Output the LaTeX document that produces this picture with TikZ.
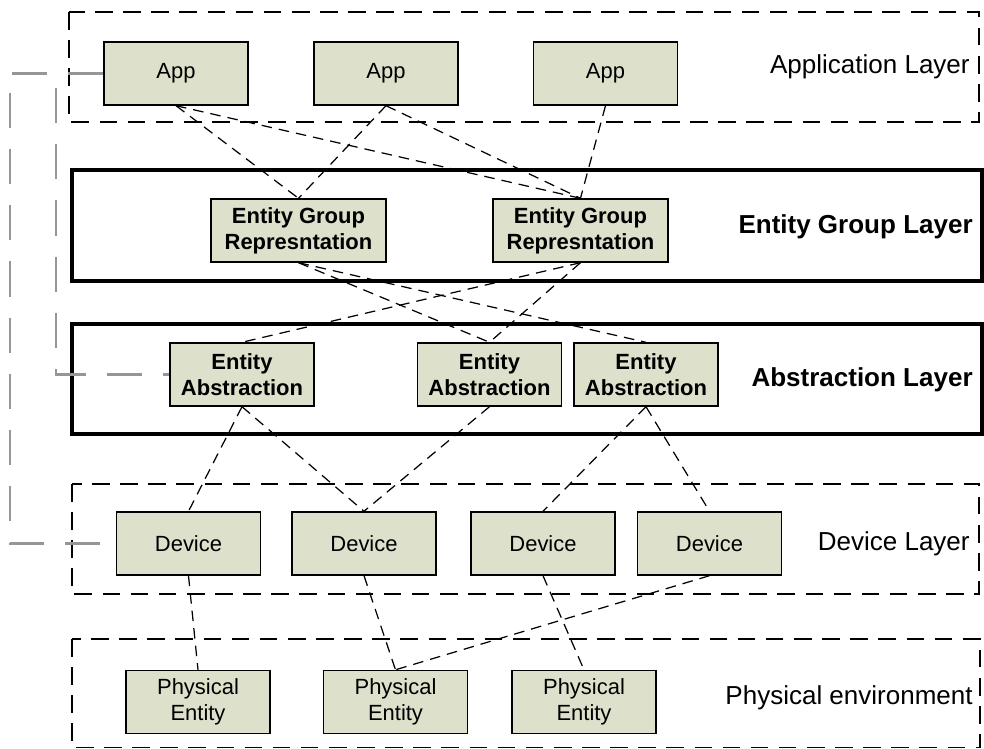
\documentclass[tikz,border=0pt]{standalone}
\usepackage{fontspec}
\setmainfont{Liberation Sans}
\definecolor{boxfill}{RGB}{221,224,203}
\definecolor{linkgray}{RGB}{150,150,150}
\begin{document}
\begin{tikzpicture}[scale=0.2]
\tikzstyle{every node}+=[inner sep=0pt]
\tikzstyle{layer}=[black, line width=0.8pt, dash pattern=on 10pt off 6pt]
\tikzstyle{boldlayer}=[black, line width=2.3pt]
\tikzstyle{box}=[draw=black, line width=0.8pt, fill=boxfill, minimum width=2.88cm, minimum height=1.26cm, align=center, font=\fontsize{12.5}{14.8}\selectfont]
\tikzstyle{boldbox}=[box, font=\fontsize{12.5}{14.8}\selectfont\bfseries]
\tikzstyle{widebox}=[boldbox, minimum width=3.5cm]
\tikzstyle{link}=[black, line width=0.7pt, dash pattern=on 6pt off 4pt]
\tikzstyle{backlink}=[linkgray, line width=1.4pt, dash pattern=on 20pt off 12pt]
\tikzstyle{layername}=[anchor=east, font=\fontsize{14.8}{17}\selectfont]
\useasboundingbox (0,0) rectangle (98.4,-74.9);
% layers
\draw [layer] (6.9,-1.2) rectangle (97.9,-12.2);
\draw [boldlayer] (7.2,-17.0) rectangle (98.2,-28.1);
\draw [boldlayer] (7.2,-32.4) rectangle (98.2,-43.4);
\draw [layer] (7.2,-48.4) rectangle (97.9,-59.4);
\draw [layer] (7.2,-63.9) rectangle (98.0,-74.75);
\node [layername] (applab) at (97.0,-6.7) {Application Layer};
\node [layername, font=\fontsize{14.8}{17}\selectfont\bfseries] (grouplab) at (97.3,-22.7) {Entity Group Layer};
\node [layername, font=\fontsize{14.8}{17}\selectfont\bfseries] (abslab) at (97.3,-38.0) {Abstraction Layer};
\node [layername] (devlab) at (97.0,-54.4) {Device Layer};
\node [layername] (physlab) at (97.3,-69.8) {Physical environment};
% boxes
\node [box] (app1) at (17.6,-7.35) {App};
\node [box] (app2) at (38.6,-7.35) {App};
\node [box] (app3) at (60.55,-7.35) {App};
\node [widebox] (grp1) at (29.85,-23.05) {Entity Group\\Represntation};
\node [widebox] (grp2) at (58.05,-23.05) {Entity Group\\Represntation};
\node [boldbox] (abs1) at (24.2,-37.45) {Entity\\Abstraction};
\node [boldbox] (abs2) at (48.95,-37.45) {Entity\\Abstraction};
\node [boldbox] (abs3) at (64.6,-37.45) {Entity\\Abstraction};
\node [box] (dev1) at (18.85,-54.35) {Device};
\node [box] (dev2) at (36.4,-54.35) {Device};
\node [box] (dev3) at (54.3,-54.35) {Device};
\node [box] (dev4) at (70.95,-54.35) {Device};
\node [box] (phy1) at (19.8,-70.2) {Physical\\Entity};
\node [box] (phy2) at (39.55,-70.2) {Physical\\Entity};
\node [box] (phy3) at (58.4,-70.2) {Physical\\Entity};
% gray back links
\coordinate (outer) at (1.0,-7.35);
\coordinate (inner) at (5.6,-8.8);
\draw [backlink] (app1.west) -- (outer) |- (dev1.west);
\draw [backlink] (inner) |- (abs1.west);
% links
\draw [link] (app1.south) -- (grp1.north);
\draw [link] (app1.south) -- (grp2.north);
\draw [link] (app2.south) -- (grp1.north);
\draw [link] (app2.south) -- (grp2.north);
\draw [link] (app3.south) -- (grp2.north);
\draw [link] (grp1.south) -- (abs2.north);
\draw [link] (grp1.south) -- (abs3.north);
\draw [link] (grp2.south) -- (abs1.north);
\draw [link] (grp2.south) -- (abs2.north);
\draw [link] (abs1.south) -- (dev1.north);
\draw [link] (abs1.south) -- (dev2.north);
\draw [link] (abs2.south) -- (dev2.north);
\draw [link] (abs3.south) -- (dev3.north);
\draw [link] (abs3.south) -- (dev4.north);
\draw [link] (dev1.south) -- (phy1.north);
\draw [link] (dev2.south) -- (phy2.north);
\draw [link] (dev3.south) -- (phy3.north);
\draw [link] (dev4.south) -- (phy2.north);
\end{tikzpicture}
\end{document}
